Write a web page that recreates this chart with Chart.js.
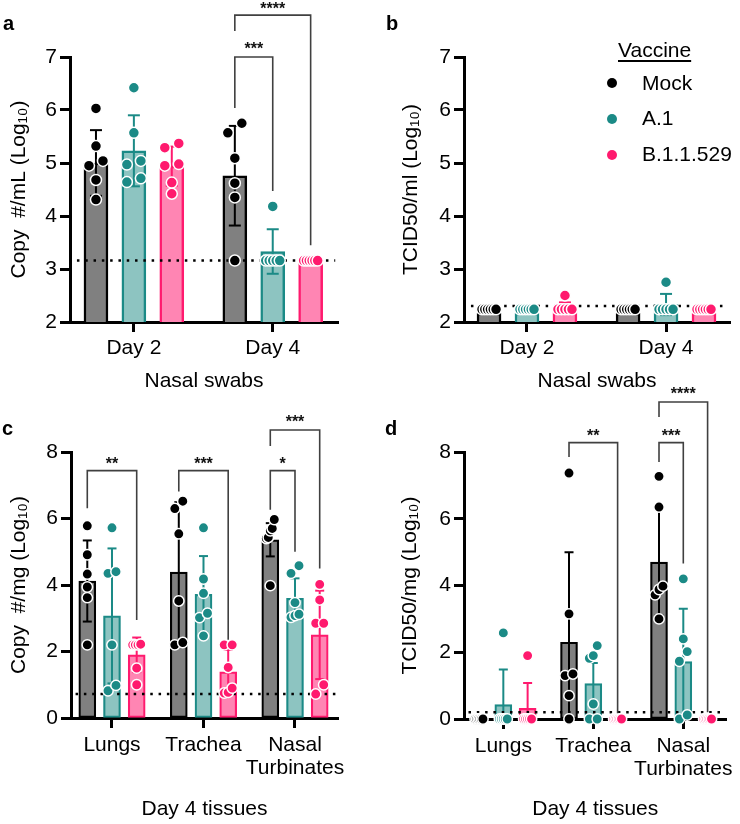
<!DOCTYPE html>
<html>
<head>
<meta charset="utf-8">
<script src="https://cdn.jsdelivr.net/npm/chart.js@4.4.1/dist/chart.umd.min.js"></script>
<style>
  html, body { margin: 0; padding: 0; background: #fff; }
  body { width: 740px; height: 824px; position: relative; overflow: hidden; font-family: 'Liberation Sans', Arial, sans-serif; color: #000; }
  canvas { position: absolute; }
  .tag { position: absolute; font-weight: bold; font-size: 20px; line-height: 20px; }
  .leg { position: absolute; font-size: 21px; line-height: 21px; white-space: nowrap; }
  .dot { position: absolute; width: 10px; height: 10px; border-radius: 50%; }
</style>
</head>
<body>
<canvas id="chartA" width="370" height="400" style="left:0;top:0"></canvas>
<canvas id="chartB" width="370" height="400" style="left:370px;top:0"></canvas>
<canvas id="chartC" width="370" height="444" style="left:0;top:380px"></canvas>
<canvas id="chartD" width="370" height="444" style="left:370px;top:380px"></canvas>

<div class="tag" style="left:3px;top:13px">a</div>
<div class="tag" style="left:386px;top:13px">b</div>
<div class="tag" style="left:2px;top:418px">c</div>
<div class="tag" style="left:385px;top:418px">d</div>

<!-- legend of panel b -->
<div class="leg" style="left:618px;top:39px;text-decoration:underline;text-decoration-thickness:1.5px;text-underline-offset:3px">Vaccine</div>
<div class="dot" style="left:607px;top:78px;background:#000"></div>
<div class="leg" style="left:642px;top:72px">Mock</div>
<div class="dot" style="left:607px;top:114px;background:#1b8a86"></div>
<div class="leg" style="left:642px;top:107px">A.1</div>
<div class="dot" style="left:607px;top:150px;background:#ff1a6e"></div>
<div class="leg" style="left:642px;top:143px">B.1.1.529</div>

<script>
const FONT = "'Liberation Sans', 'DejaVu Sans', sans-serif";

const groups = ['Mock', 'A.1', 'B.1.1.529'];
const lineColors = ['#000000', '#1b8a86', '#ff1a6e'];
const fillColors = ['#808080', '#8dc4c1', '#ff85b3'];
const pointColors = ['#000000', '#1b8a86', '#ff1a6e'];

// a - copy #/mL, nasal swabs (per group: one list per day)
const swabDays = ['Day 2', 'Day 4'];
const copyMlPoints = [
  [[6.03, 5.32, 5.04, 4.95, 4.68, 4.31], [5.75, 5.57, 5.09, 4.62, 4.35, 3.16]],
  [[6.42, 5.57, 5.04, 4.97, 4.71, 4.64], [4.18, 3.16, 3.16, 3.16, 3.16, 3.16]],
  [[5.37, 5.29, 4.98, 4.95, 4.63, 4.42], [3.16, 3.16, 3.16, 3.16, 3.16, 3.16]]
];
const copyMlMeans = [[5.0, 4.76], [5.23, 3.33], [4.94, 3.16]];
const copyMlSd = [[0.62, 0.94], [0.67, 0.42], [0.37, 0]];
const copyMlLimit = 3.16;
const copyMlSig = [
  { cat: 1, from: 0, to: 1, yFrom: 6.04, yTop: 7.0, yTo: 4.47, label: '***', yLabel: 7.23 },
  { cat: 1, from: 0, to: 2, yFrom: 7.49, yTop: 7.79, yTo: 3.45, label: '****', yLabel: 7.98 }
];

// b - TCID50/ml, nasal swabs
const tcidMlPoints = [
  [[2.24, 2.24, 2.24, 2.24, 2.24, 2.24], [2.24, 2.24, 2.24, 2.24, 2.24, 2.24]],
  [[2.24, 2.24, 2.24, 2.24, 2.24, 2.24], [2.75, 2.24, 2.24, 2.24, 2.24, 2.24]],
  [[2.5, 2.24, 2.24, 2.24, 2.24, 2.24], [2.24, 2.24, 2.24, 2.24, 2.24, 2.24]]
];
const tcidMlMeans = [[2.17, 2.17], [2.17, 2.33], [2.27, 2.17]];
const tcidMlSd = [[0, 0], [0, 0.2], [0.1, 0]];
const tcidMlLimit = 2.3;

// c - copy #/mg, day 4 tissues
const tissues = ['Lungs', 'Trachea', ['Nasal', 'Turbinates']];
const copyMgPoints = [
  [[5.78, 4.91, 4.33, 3.94, 3.62, 2.2], [6.52, 6.3, 5.54, 3.52, 2.27, 2.2], [5.97, 5.7, 5.63, 5.43, 5.4, 3.98]],
  [[5.72, 4.4, 4.35, 2.2, 0.98, 0.82], [5.72, 4.18, 3.75, 3.15, 3.02, 2.47], [4.58, 4.35, 3.47, 3.12, 3.08, 3.03]],
  [[2.22, 2.2, 2.2, 2.2, 1.5, 1.0], [2.2, 2.2, 1.52, 0.9, 0.77, 0.75], [4.02, 3.55, 2.85, 2.85, 1.0, 0.72]]
];
const copyMgMeans = [[4.12, 4.39, 5.36], [3.07, 3.72, 3.6], [1.9, 1.39, 2.5]];
const copyMgSd = [[1.22, 2.1, 0.5], [2.03, 1.15, 0.6], [0.52, 0.66, 1.33]];
const copyMgLimit = 0.72;
const copyMgSig = [
  { cat: 0, from: 0, to: 2, yFrom: 6.31, yTop: 7.44, yTo: 2.95, label: '**', yLabel: 7.76 },
  { cat: 1, from: 0, to: 2, yFrom: 6.81, yTop: 7.44, yTo: 2.35, label: '***', yLabel: 7.76 },
  { cat: 2, from: 0, to: 1, yFrom: 6.26, yTop: 7.44, yTo: 5.0, label: '*', yLabel: 7.76 },
  { cat: 2, from: 0, to: 2, yFrom: 8.18, yTop: 8.66, yTo: 4.5, label: '***', yLabel: 9.01 }
];

// d - TCID50/mg, day 4 tissues
const tcidMgPoints = [
  [[0, 0, 0, 0, 0, 0], [7.37, 3.15, 1.35, 1.3, 0.7, 0], [7.27, 6.35, 3.98, 3.88, 3.72, 3.0]],
  [[2.58, 0, 0, 0, 0, 0], [2.2, 1.9, 1.82, 0.45, 0, 0], [4.2, 2.4, 2.02, 1.73, 0.12, 0]],
  [[1.9, 0, 0, 0, 0, 0], [0, 0, 0, 0, 0, 0], [0, 0, 0, 0, 0, 0]]
];
const tcidMgMeans = [[0, 2.3, 4.7], [0.43, 1.06, 1.72], [0.32, 0, 0]];
const tcidMgSd = [[0, 2.7, 1.6], [1.05, 0.62, 1.58], [0.76, 0, 0]];
const tcidMgLimit = 0.2;
const tcidMgSig = [
  { cat: 1, from: 0, to: 2, yFrom: 7.85, yTop: 8.28, yTo: 0.17, label: '**', yLabel: 8.6 },
  { cat: 2, from: 0, to: 1, yFrom: 7.7, yTop: 8.28, yTo: 4.66, label: '***', yLabel: 8.6 },
  { cat: 2, from: 0, to: 2, yFrom: 9.05, yTop: 9.5, yTo: 0.2, label: '****', yLabel: 9.86 }
];

// spread points that would overlap side by side (offsets in px)
function swarm(vals, pxPerY, minGap, spread) {
  const sorted = vals.slice().sort((p, q) => p - q);
  const out = [];
  let i = 0;
  while (i < sorted.length) {
    let j = i + 1;
    while (j < sorted.length && (sorted[j] - sorted[j - 1]) * pxPerY < minGap) j++;
    const n = j - i;
    const step = n > 1 ? Math.min(14, spread / (n - 1)) : 0;
    for (let k = 0; k < n; k++) out.push({ y: sorted[i + k], dx: (k - (n - 1) / 2) * step });
    i = j;
  }
  return out;
}

function buildChart(id, o) {
  const pxX = o.plotW / (o.xMax - o.xMin);
  const pxY = o.plotH / (o.yMax - o.yMin);
  const xAt = (cat, g) => cat + 1 + (g - 1) * o.off;
  const datasets = [];

  groups.forEach((name, g) => {
    datasets.push({
      type: 'bar',
      label: name,
      order: 4,
      grouped: false,
      data: o.cats.map((c, i) => ({ x: xAt(i, g), y: o.means[g][i] })),
      backgroundColor: fillColors[g],
      borderColor: lineColors[g],
      borderWidth: o.barBorder,
      borderSkipped: false,
      barThickness: o.barW
    });

    const err = [];
    o.cats.forEach((c, i) => {
      const m = o.means[g][i], s = o.sds[g][i];
      if (!s) return;
      const lo = m - s;
      err.push({ x: xAt(i, g), y: Math.max(lo, o.yMin), cap: lo >= o.yMin });
      err.push({ x: xAt(i, g), y: m + s, cap: true });
      err.push({ x: xAt(i, g), y: null });
    });
    datasets.push({
      type: 'line',
      order: 3,
      data: err,
      showLine: true,
      spanGaps: false,
      borderColor: lineColors[g],
      borderWidth: 2,
      pointStyle: 'line',
      pointBorderColor: lineColors[g],
      pointBorderWidth: 2,
      pointRadius: (ctx) => (ctx.raw && ctx.raw.cap ? o.capR : 0)
    });

    const pts = [];
    o.cats.forEach((c, i) => {
      swarm(o.points[g][i], pxY, o.minGap, o.spread).forEach(p => {
        pts.push({ x: xAt(i, g) + p.dx / pxX, y: p.y });
      });
    });
    datasets.push({
      type: 'scatter',
      order: 1,
      data: pts,
      clip: false,
      showLine: false,
      pointRadius: o.pointR,
      pointBackgroundColor: pointColors[g],
      pointBorderColor: '#ffffff',
      pointBorderWidth: 1.5
    });
  });

  // detection limit
  datasets.push({
    type: 'line',
    order: 2,
    data: [{ x: o.xMin + 0.05, y: o.lod }, { x: o.xMax - 0.02, y: o.lod }],
    showLine: true,
    borderColor: '#000',
    borderWidth: 2.5,
    borderDash: [2.5, 5.8],
    pointRadius: 0
  });

  // significance brackets
  o.sig.forEach(s => {
    datasets.push({
      type: 'line',
      order: 0,
      clip: false,
      showLine: true,
      data: [
        { x: xAt(s.cat, s.from), y: s.yFrom },
        { x: xAt(s.cat, s.from), y: s.yTop },
        { x: xAt(s.cat, s.to), y: s.yTop },
        { x: xAt(s.cat, s.to), y: s.yTo }
      ],
      borderColor: '#404040',
      borderWidth: 1.6,
      pointRadius: 0,
      tension: 0
    });
  });

  const starLabels = {
    id: 'starLabels',
    afterDatasetsDraw(chart) {
      const { ctx, scales } = chart;
      ctx.save();
      ctx.font = 'bold 16px ' + FONT;
      ctx.fillStyle = '#111';
      ctx.textAlign = 'center';
      ctx.textBaseline = 'alphabetic';
      o.sig.forEach(s => {
        const cx = (scales.x.getPixelForValue(xAt(s.cat, s.from)) + scales.x.getPixelForValue(xAt(s.cat, s.to))) / 2;
        ctx.fillText(s.label, cx, scales.y.getPixelForValue(s.yLabel) + 9);
      });
      ctx.restore();
    }
  };

  return new Chart(document.getElementById(id), {
    type: 'scatter',
    data: { datasets },
    plugins: [starLabels],
    options: {
      responsive: false,
      animation: false,
      events: [],
      layout: { padding: o.padding },
      plugins: { legend: { display: false }, tooltip: { enabled: false } },
      scales: {
        x: {
          type: 'linear',
          offset: false,
          min: o.xMin,
          max: o.xMax,
          afterBuildTicks: (s) => { s.ticks = o.cats.map((c, i) => ({ value: i + 1 })); },
          afterFit: (s) => { s.height = o.xH; },
          ticks: {
            autoSkip: false,
            maxRotation: 0,
            minRotation: 0,
            color: '#000',
            padding: o.tickPad,
            font: { family: FONT, size: 21, lineHeight: o.tickLH },
            callback: (v) => o.cats[Math.round(v) - 1]
          },
          grid: { offset: false, drawOnChartArea: false, drawTicks: true, tickLength: 10, tickWidth: 3, tickColor: '#000' },
          border: { display: true, color: '#000', width: 3 },
          title: {
            display: true,
            text: o.xTitle,
            color: '#000',
            font: { family: FONT, size: 21 },
            padding: { top: 4, bottom: o.titlePadBottom }
          }
        },
        y: {
          type: 'linear',
          min: o.yMin,
          max: o.yMax,
          afterFit: (s) => { s.width = o.yW; },
          ticks: { stepSize: o.yStep, color: '#000', padding: 3, font: { family: FONT, size: 21 } },
          grid: { drawOnChartArea: false, drawTicks: true, tickLength: 10, tickWidth: 3, tickColor: '#000' },
          border: { display: true, color: '#000', width: 3 },
          title: {
            display: true,
            text: o.yTitle,
            color: '#000',
            font: { family: FONT, size: 21 },
            padding: { top: 4, bottom: 4 }
          }
        }
      }
    }
  });
}

const wideBars = { off: 0.273, barW: 24, barBorder: 2.5, pointR: 5.5, capR: 6, minGap: 11, spread: 14, yMin: 2, yMax: 7, yStep: 1, tickPad: 4, tickLH: 1.2, titlePadBottom: 4, xH: 76, plotH: 265 };
const narrowBars = { off: 0.27, barW: 17, barBorder: 2.2, pointR: 5.2, capR: 4.5, minGap: 10.5, spread: 8, yMin: 0, yMax: 8, yStep: 2, tickPad: 6, tickLH: 1.1, titlePadBottom: 2 };

buildChart('chartA', Object.assign({}, wideBars, {
  cats: swabDays, points: copyMlPoints, means: copyMlMeans, sds: copyMlSd, lod: copyMlLimit, sig: copyMlSig,
  xMin: 0.54, xMax: 2.47, plotW: 268,
  yW: 67, padding: { left: 3, right: 32, top: 57, bottom: 2 },
  xTitle: 'Nasal swabs', yTitle: 'Copy  #/mL (Log₁₀)'
}));

buildChart('chartB', Object.assign({}, wideBars, {
  cats: swabDays, points: tcidMlPoints, means: tcidMlMeans, sds: tcidMlSd, lod: tcidMlLimit, sig: [],
  xMin: 0.547, xMax: 2.46, plotW: 266,
  yW: 69, padding: { left: 25, right: 10, top: 57, bottom: 2 },
  xTitle: 'Nasal swabs', yTitle: 'TCID50/ml (Log₁₀)'
}));

buildChart('chartC', Object.assign({}, narrowBars, {
  cats: tissues, points: copyMgPoints, means: copyMgMeans, sds: copyMgSd, lod: copyMgLimit, sig: copyMgSig,
  xMin: 0.552, xMax: 3.47, plotW: 267, plotH: 266, xH: 106,
  yW: 68, padding: { left: 3, right: 32, top: 72, bottom: 0 },
  xTitle: 'Day 4 tissues', yTitle: 'Copy  #/mg (Log₁₀)'
}));

buildChart('chartD', Object.assign({}, narrowBars, {
  cats: tissues, points: tcidMgPoints, means: tcidMgMeans, sds: tcidMgSd, lod: tcidMgLimit, sig: tcidMgSig,
  xMin: 0.563, xMax: 3.48, plotW: 267, plotH: 267, xH: 105,
  yW: 70, padding: { left: 24, right: 9, top: 72, bottom: 0 },
  xTitle: 'Day 4 tissues', yTitle: 'TCID50/mg (Log₁₀)'
}));
</script>
</body>
</html>
